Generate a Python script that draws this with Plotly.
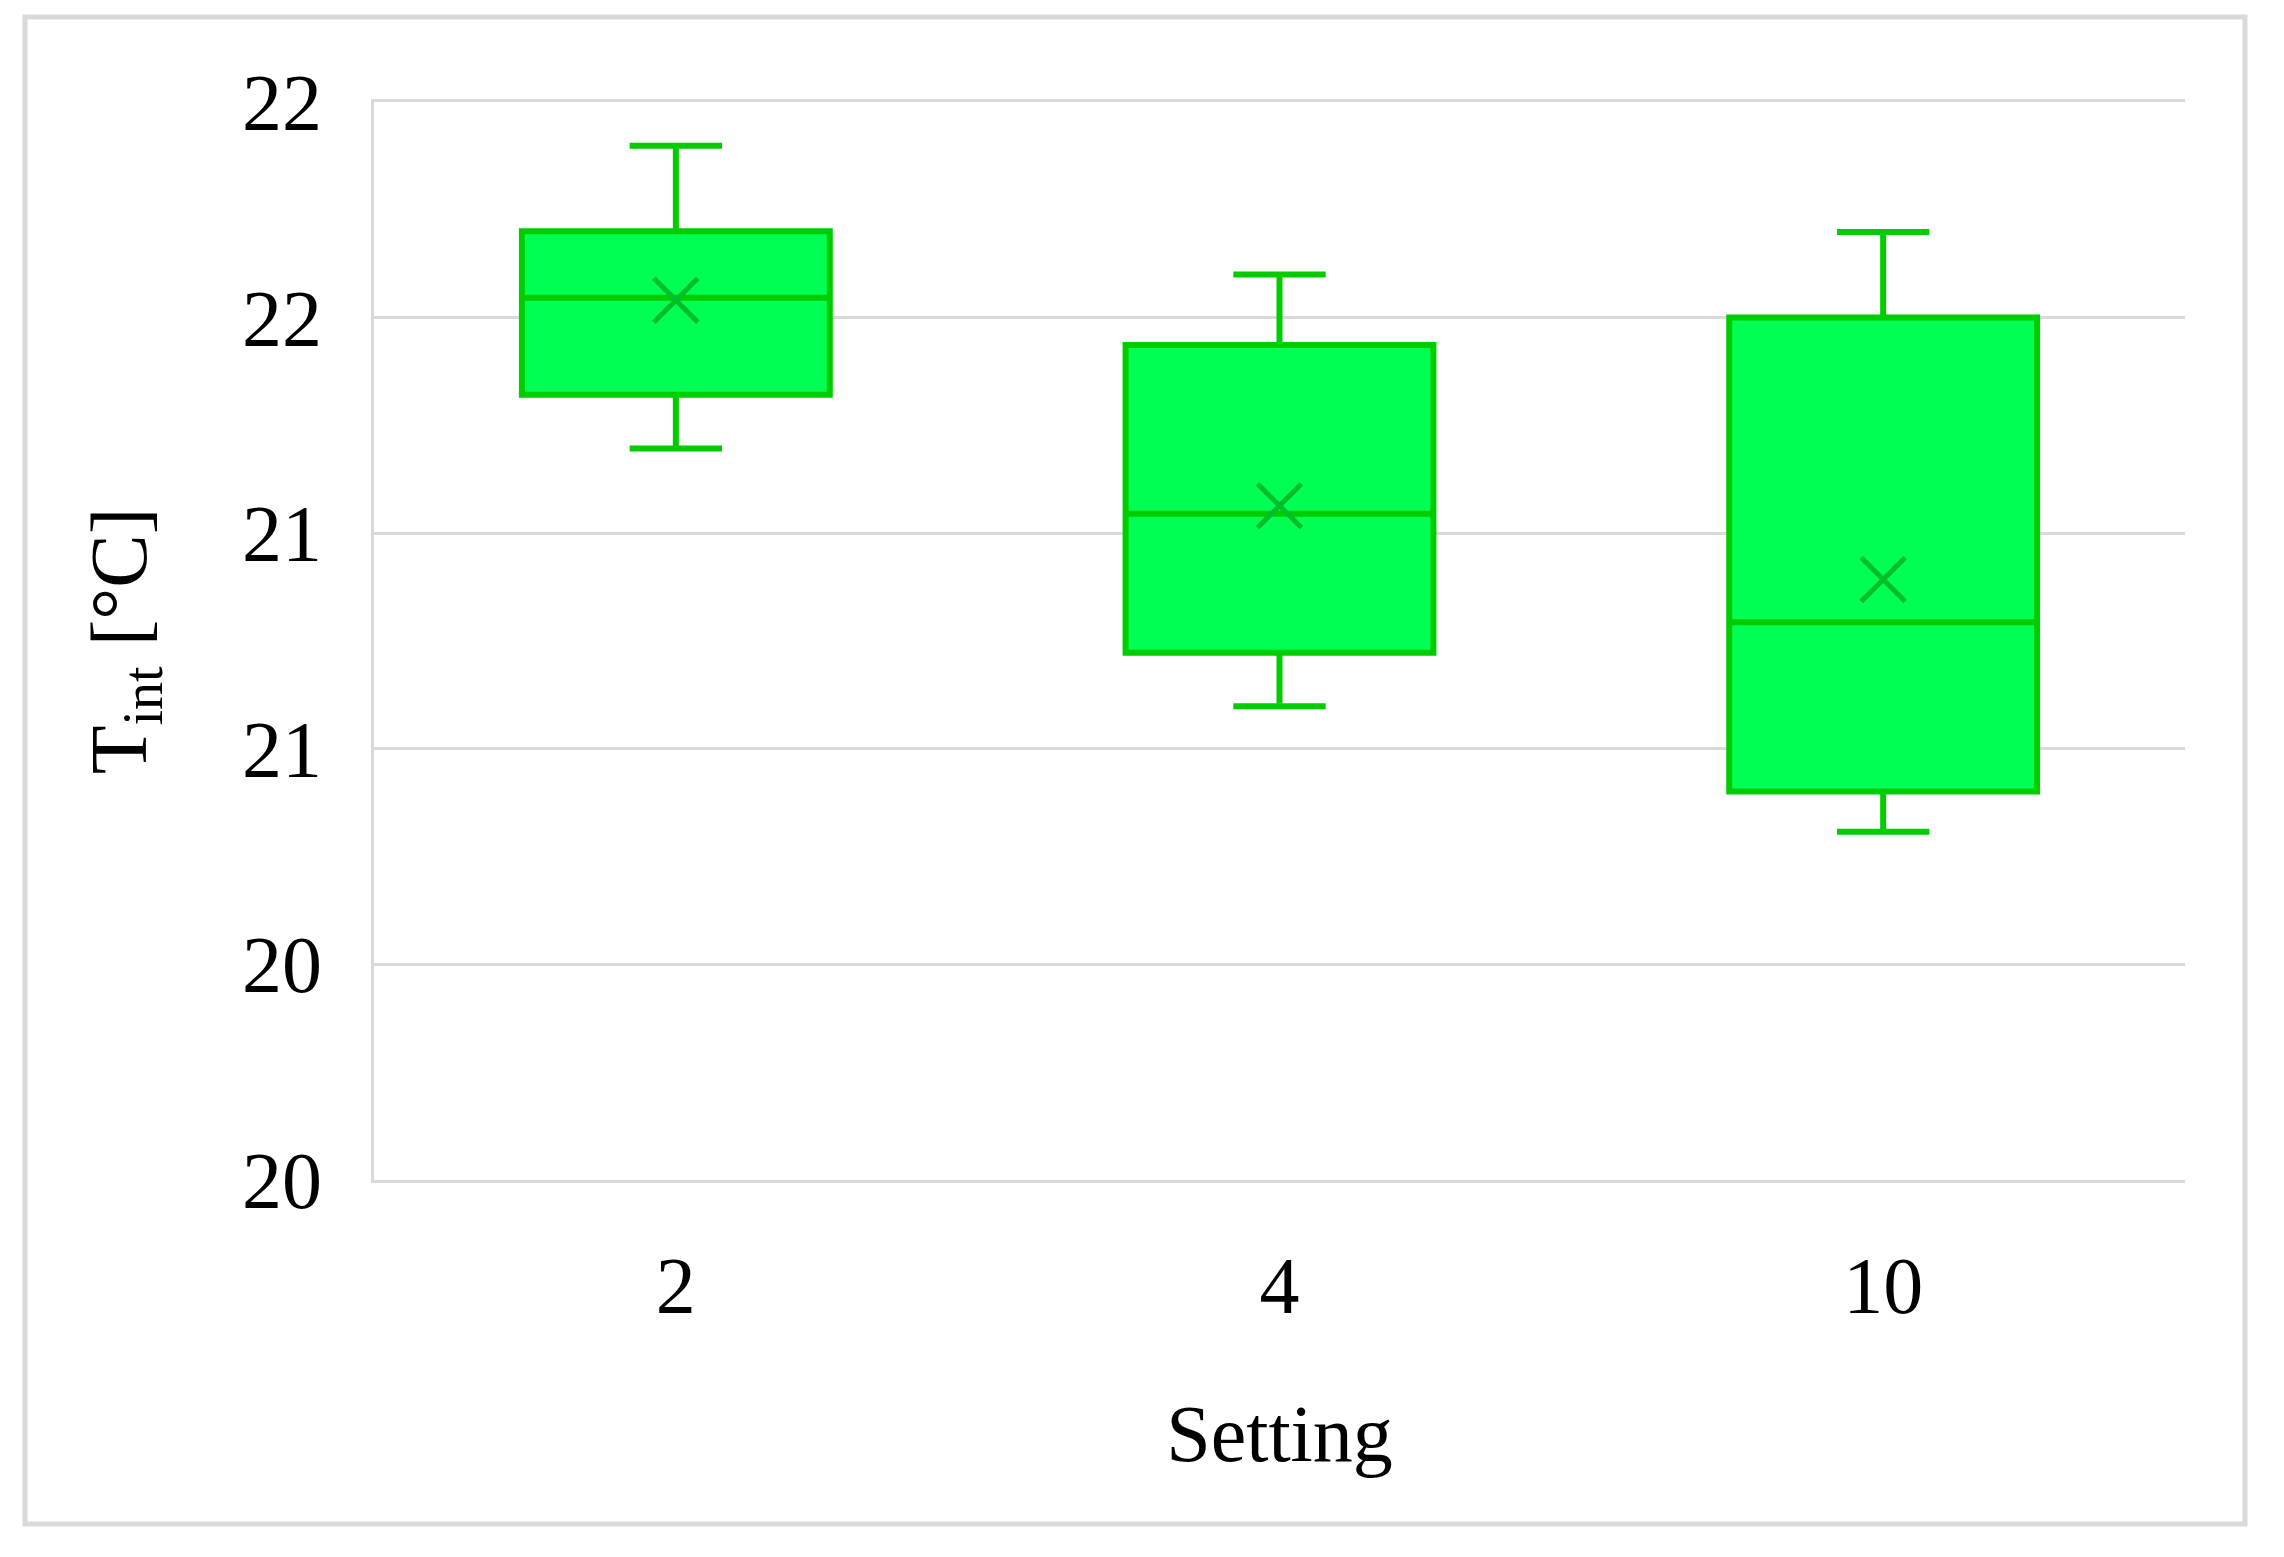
import plotly.graph_objects as go

# ---- data ----
categories = ["2", "4", "10"]
q1_vals = [21.457, 20.978, 20.721]
median_vals = [21.637, 21.236, 21.035]
q3_vals = [21.760, 21.549, 21.600]
lower_whisker = [21.357, 20.879, 20.646]
upper_whisker = [21.919, 21.680, 21.759]
mean_vals = [21.632, 21.251, 21.114]

y_tick_vals = [20.0, 20.4, 20.8, 21.2, 21.6, 22.0]
y_tick_text = ["20", "20", "21", "21", "22", "22"]

# ---- layout geometry (pixels, page coordinates) ----
PAGE_W, PAGE_H = 2284, 1557
OFF = 8  # default body margin of the html page
W, H = PAGE_W - 2 * OFF, PAGE_H - 2 * OFF
L, R, T, B = 374 - OFF, 2185 - OFF, 102 - OFF, 1180 - OFF

FILL = "rgb(0,255,85)"
EDGE = "rgb(0,204,0)"
GRID = "#d9d9d9"
FONT = "Liberation Serif"

fig = go.Figure()
fig.add_trace(go.Box(
    x=categories,
    q1=q1_vals, median=median_vals, q3=q3_vals,
    lowerfence=lower_whisker, upperfence=upper_whisker,
    fillcolor=FILL,
    line=dict(color=EDGE, width=6),
    width=0.51,
    whiskerwidth=0.30,
    boxpoints=False,
    showlegend=False,
))
fig.add_trace(go.Scatter(
    x=categories, y=mean_vals, mode="markers",
    marker=dict(symbol="x-thin", size=44,
                line=dict(color="rgb(0,190,40)", width=5)),
    showlegend=False,
))

pw, ph = R - L, B - T
def px_x(v):
    return (v - OFF - L) / pw
def px_y(v):
    return (B - (v - OFF)) / ph

fig.add_shape(type="rect", xref="paper", yref="paper",
              x0=px_x(25), x1=px_x(2245), y0=px_y(1524), y1=px_y(17),
              line=dict(color=GRID, width=5), fillcolor="rgba(0,0,0,0)",
              layer="below")

fig.update_layout(
    width=W, height=H,
    margin=dict(l=L, r=W - R, t=T, b=H - B, autoexpand=False),
    paper_bgcolor="white", plot_bgcolor="white",
    font=dict(family=FONT, color="black", size=80),
    xaxis=dict(
        type="category",
        range=[-0.5, 2.5],
        showgrid=False, zeroline=False,
        showline=True, mirror=True, linecolor=GRID, linewidth=3,
        tickfont=dict(family=FONT, size=80, color="black"),
        ticklabelstandoff=34,
        title=dict(text="Setting", font=dict(family=FONT, size=80),
                   standoff=76),
        automargin=False,
    ),
    yaxis=dict(
        range=[20.0, 22.0],
        tickvals=y_tick_vals, ticktext=y_tick_text,
        showgrid=True, gridcolor=GRID, gridwidth=3,
        zeroline=False,
        showline=True, linecolor=GRID, linewidth=3,
        tickfont=dict(family=FONT, size=80, color="black"),
        ticklabelstandoff=33,
        title=dict(text="T<sub>int</sub> [°C]", font=dict(family=FONT, size=80),
                   standoff=70),
        automargin=False,
    ),
)

fig.write_html("out.html")
